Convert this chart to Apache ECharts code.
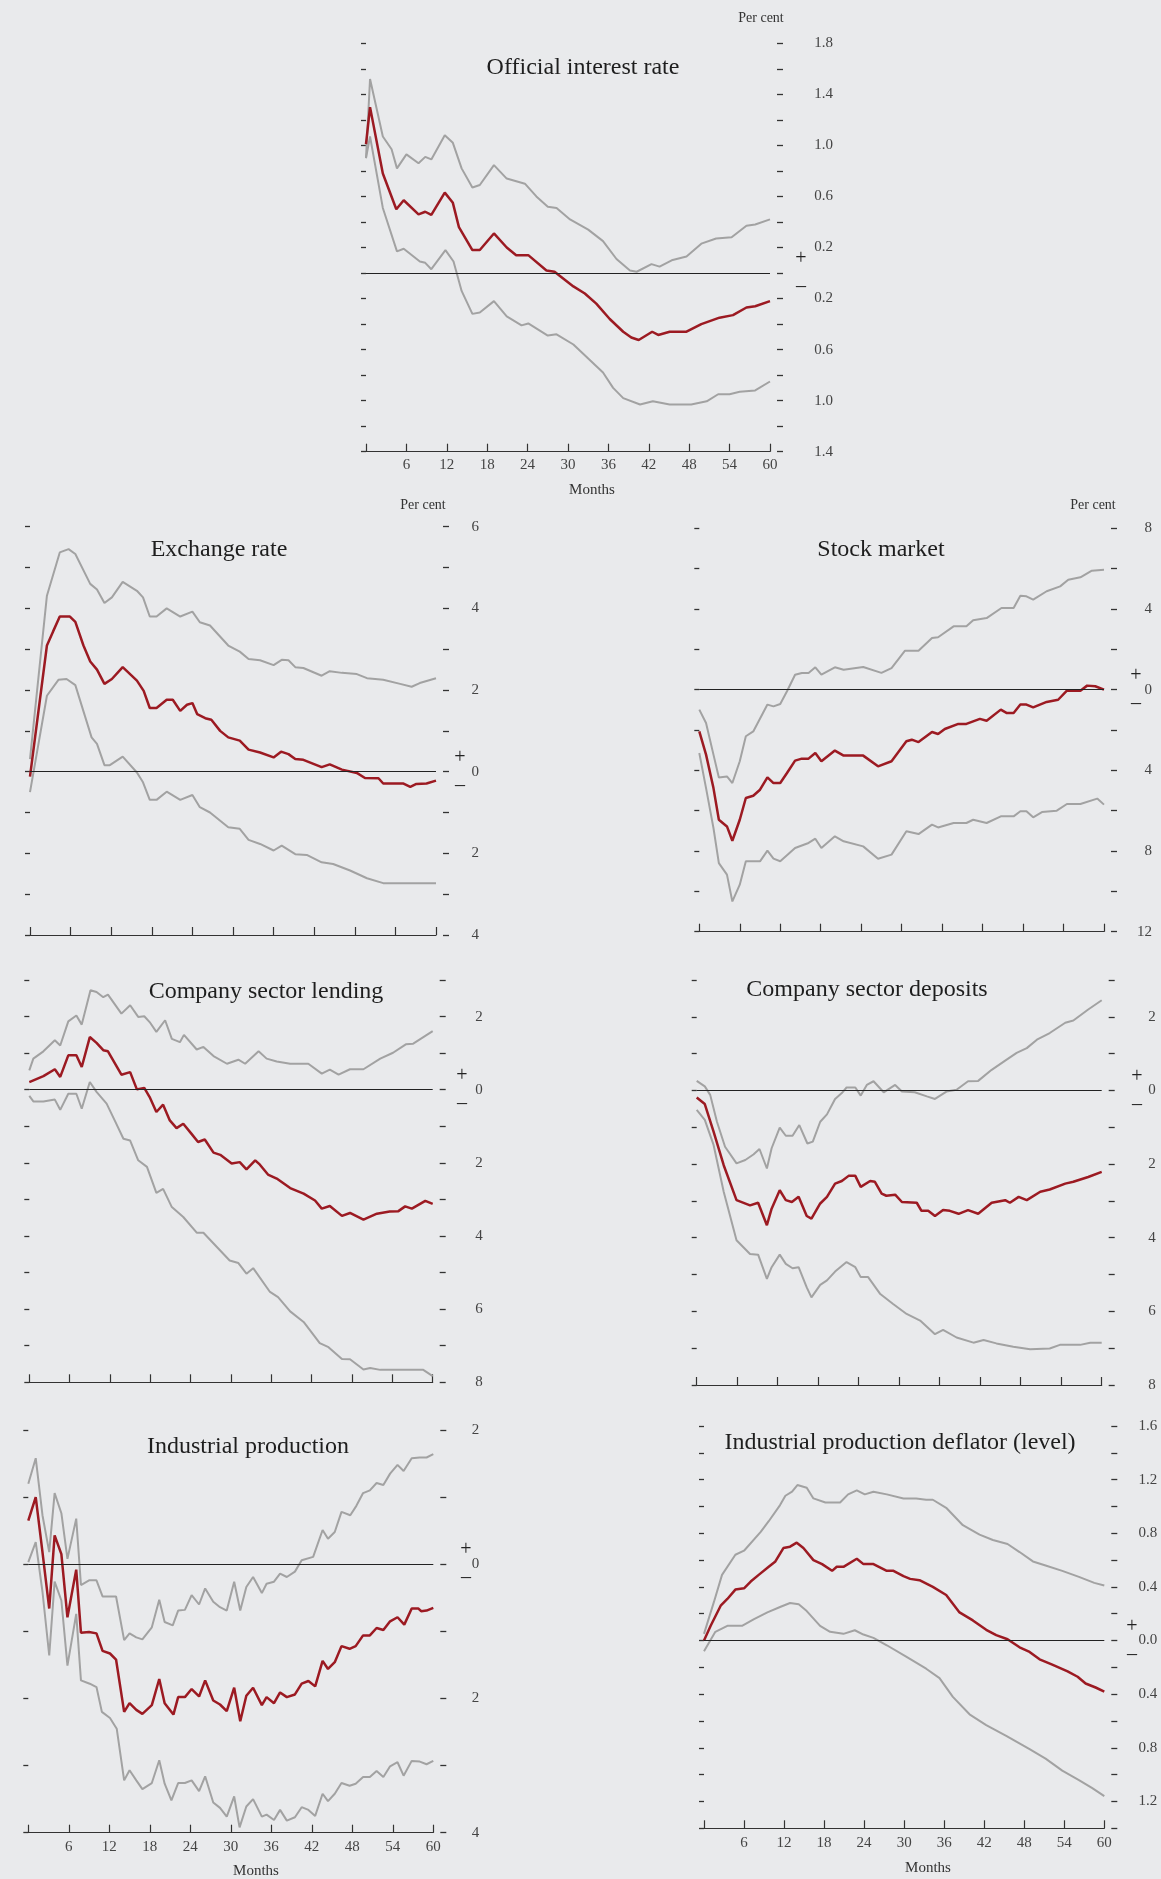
<!DOCTYPE html>
<html><head><meta charset="utf-8">
<script src="https://cdn.jsdelivr.net/npm/echarts/dist/echarts.min.js"></script>
<style>html,body{margin:0;padding:0;background:#e9eaec}#c{width:1161px;height:1879px}</style>
</head><body><div id="c"></div>
<script>
// ---- Data: [month, per cent] ----
const rateCentral = [[0,1.01],[0.6,1.30],[2.5,0.78],[4.5,0.50],[5.6,0.57],[7.8,0.46],[8.8,0.48],[9.7,0.455],[11.7,0.63],[12.9,0.55],[13.8,0.36],[15.8,0.18],[16.9,0.18],[19,0.31],[20.9,0.20],[22.3,0.14],[24.1,0.14],[26.8,0.02],[28,0.01],[30.8,-0.105],[32.5,-0.16],[34.2,-0.24],[36.2,-0.36],[38.2,-0.46],[39.4,-0.505],[40.5,-0.525],[42.5,-0.46],[43.4,-0.485],[45.1,-0.46],[47.6,-0.46],[49.8,-0.40],[52.5,-0.35],[54.5,-0.33],[56.5,-0.27],[57.8,-0.26],[60,-0.22]];
const rateUpper = [[0,0.90],[0.6,1.52],[2.5,1.07],[3.8,0.97],[4.6,0.82],[6,0.93],[7.8,0.86],[8.8,0.91],[9.7,0.89],[11.7,1.08],[12.9,1.02],[14.2,0.82],[15.8,0.67],[16.9,0.69],[19,0.845],[20.9,0.74],[23.6,0.70],[25.3,0.60],[27,0.52],[28.3,0.51],[30.3,0.42],[33,0.34],[35.2,0.25],[37.2,0.11],[39.2,0.02],[40.2,0.01],[42.4,0.07],[43.6,0.05],[45.4,0.10],[47.6,0.13],[49.8,0.23],[52,0.27],[54.3,0.28],[56.5,0.37],[57.8,0.38],[60,0.42]];
const rateLower = [[0,0.90],[0.6,1.07],[2.5,0.51],[4.6,0.17],[5.6,0.19],[8,0.09],[8.8,0.08],[9.7,0.03],[11.8,0.18],[13,0.09],[14.2,-0.14],[15.8,-0.32],[16.9,-0.31],[19,-0.22],[20.9,-0.34],[23.1,-0.41],[24.1,-0.395],[27,-0.49],[28.3,-0.48],[30.8,-0.56],[35.2,-0.78],[36.7,-0.90],[38.2,-0.98],[40.7,-1.03],[42.6,-1.005],[45.1,-1.03],[48.3,-1.03],[50.6,-1.005],[52.3,-0.95],[54,-0.95],[55.5,-0.93],[57.8,-0.92],[60,-0.85]];

const exCentral = [[0,-0.12],[2.5,3.09],[3.4,3.43],[4.4,3.80],[5.9,3.80],[6.7,3.67],[7.9,3.09],[8.9,2.70],[9.9,2.50],[11,2.15],[12.1,2.27],[13.7,2.56],[15.8,2.23],[16.8,1.98],[17.7,1.56],[18.7,1.56],[20.2,1.76],[21.1,1.76],[22.2,1.49],[23.2,1.64],[24,1.68],[24.7,1.41],[25.9,1.31],[26.8,1.27],[28.1,1.00],[29.3,0.84],[31,0.76],[32.3,0.54],[34,0.47],[36,0.35],[37.1,0.49],[38.2,0.43],[39.2,0.31],[40.4,0.29],[43.1,0.11],[44.3,0.18],[46.1,0.05],[48.3,-0.03],[49.5,-0.155],[51.5,-0.16],[52.2,-0.29],[55.2,-0.29],[56.2,-0.37],[57.1,-0.30],[58.6,-0.29],[60,-0.22]];
const exUpper = [[0,0.31],[2.5,4.31],[4.4,5.37],[5.7,5.45],[6.7,5.33],[8.9,4.60],[9.9,4.46],[11,4.13],[12.1,4.27],[13.7,4.65],[15.8,4.43],[16.7,4.27],[17.7,3.80],[18.7,3.80],[20.2,4.0],[22.2,3.80],[24,3.92],[25.1,3.66],[26.6,3.58],[29.3,3.09],[31,2.94],[32.3,2.76],[34,2.73],[36,2.61],[37.2,2.74],[38.2,2.73],[39.2,2.56],[40.4,2.54],[43.1,2.35],[44.3,2.46],[46.1,2.42],[48.3,2.39],[49.8,2.29],[52.2,2.25],[54.7,2.15],[56.4,2.08],[57.6,2.17],[60,2.29]];
const exLower = [[0,-0.5],[2.5,1.86],[4.2,2.25],[5.4,2.27],[6.7,2.12],[9.1,0.84],[9.9,0.68],[11,0.16],[11.8,0.16],[13.7,0.37],[15.8,-0.02],[16.7,-0.26],[17.7,-0.69],[18.7,-0.69],[20.2,-0.49],[22.2,-0.69],[24,-0.57],[25.1,-0.87],[26.6,-1.0],[29.3,-1.36],[31,-1.40],[32.3,-1.67],[34,-1.77],[36,-1.93],[37.2,-1.81],[39.2,-2.02],[40.9,-2.04],[43.1,-2.22],[44.8,-2.26],[47.3,-2.42],[49.8,-2.61],[52.2,-2.73],[54.7,-2.73],[57.1,-2.73],[60,-2.73]];

const stCentral = [[0,-2.07],[1,-3.22],[2.1,-4.88],[2.9,-6.45],[4.1,-6.78],[4.9,-7.49],[6,-6.45],[6.9,-5.37],[8,-5.26],[9,-4.96],[10.1,-4.35],[11,-4.63],[12,-4.63],[13,-4.13],[14.2,-3.52],[15.2,-3.42],[16.2,-3.42],[17.2,-3.14],[18.1,-3.55],[20.1,-3.02],[21.4,-3.27],[24.3,-3.27],[26.5,-3.80],[28.5,-3.55],[30.7,-2.56],[31.5,-2.48],[32.5,-2.60],[34.5,-2.10],[35.4,-2.20],[36.4,-1.95],[38.4,-1.70],[39.6,-1.70],[41.6,-1.45],[42.6,-1.54],[44.7,-0.99],[45.6,-1.16],[46.6,-1.16],[47.6,-0.74],[48.5,-0.74],[49.5,-0.88],[51.5,-0.61],[53.2,-0.50],[54.5,-0.05],[56.5,-0.05],[57.5,0.20],[58.7,0.17],[60,0]];
const stUpper = [[0,-0.99],[1,-1.65],[2.1,-3.22],[2.9,-4.35],[4.1,-4.30],[4.9,-4.63],[6,-3.55],[6.9,-2.31],[8,-2.07],[10.1,-0.74],[11,-0.83],[12,-0.71],[13,-0.08],[14.2,0.74],[15.2,0.83],[16.2,0.83],[17.2,1.11],[18.1,0.74],[20.1,1.11],[21.4,0.99],[24.3,1.12],[27,0.83],[28.5,1.07],[30.5,1.93],[32.5,1.93],[34.5,2.56],[35.4,2.60],[37.7,3.14],[39.6,3.14],[40.6,3.44],[42.6,3.55],[44.8,4.05],[46.6,4.05],[47.6,4.66],[48.5,4.63],[49.5,4.46],[51.5,4.88],[53.5,5.12],[54.7,5.45],[56.5,5.57],[58.2,5.90],[60,5.95]];
const stLower = [[0,-3.14],[1,-4.88],[2.1,-6.86],[2.9,-8.60],[4.1,-9.17],[4.9,-10.50],[6,-9.67],[6.9,-8.51],[9,-8.51],[10.1,-7.98],[11,-8.38],[12,-8.51],[14.2,-7.85],[16.2,-7.60],[17.2,-7.39],[18.1,-7.85],[20.1,-7.27],[21.4,-7.52],[24.3,-7.77],[26.5,-8.38],[28.5,-8.18],[30.7,-7.02],[32.5,-7.16],[34.5,-6.69],[35.4,-6.83],[37.7,-6.61],[39.6,-6.61],[40.6,-6.45],[42.6,-6.61],[44.7,-6.28],[46.6,-6.28],[47.6,-6.03],[48.5,-6.03],[49.5,-6.33],[50.8,-6.07],[53,-6.0],[54.5,-5.67],[56.5,-5.67],[59,-5.40],[60,-5.70]];

const lnCentral = [[0,0.21],[2.1,0.37],[3.8,0.56],[4.6,0.35],[5.8,0.94],[7,0.94],[7.8,0.62],[9,1.44],[10,1.28],[11,1.08],[11.7,1.05],[13.7,0.41],[15,0.48],[16,0.01],[17.1,0.05],[17.9,-0.20],[18.9,-0.61],[19.9,-0.41],[20.9,-0.84],[21.9,-1.05],[22.9,-0.93],[24.1,-1.20],[25.1,-1.43],[26.1,-1.36],[27.4,-1.72],[28.4,-1.78],[30.1,-2.02],[31.3,-1.98],[32.3,-2.18],[33.6,-1.93],[34.3,-2.05],[35.5,-2.32],[36.8,-2.43],[38.8,-2.69],[40.8,-2.84],[42.5,-3.03],[43.5,-3.25],[44.7,-3.18],[46.5,-3.45],[47.7,-3.37],[49.7,-3.55],[51.7,-3.39],[53.6,-3.33],[54.9,-3.32],[55.9,-3.19],[56.9,-3.25],[58.9,-3.04],[60,-3.12]];
const lnUpper = [[0,0.53],[0.6,0.85],[2.1,1.05],[3.8,1.35],[4.6,1.21],[5.8,1.87],[7,2.03],[7.8,1.78],[9.1,2.72],[10,2.67],[11,2.53],[11.7,2.60],[13.7,2.08],[15,2.31],[16.2,1.99],[17.1,2.01],[17.9,1.85],[18.9,1.58],[20.2,1.90],[21.2,1.39],[22.4,1.30],[23,1.50],[24.9,1.10],[25.9,1.17],[27.4,0.92],[29.4,0.71],[31.1,0.82],[32.1,0.71],[34.1,1.05],[35.3,0.85],[36.8,0.77],[38.8,0.71],[41.5,0.71],[43.5,0.44],[44.7,0.55],[46,0.41],[47.7,0.56],[49.7,0.56],[52.2,0.85],[54.1,1.01],[56,1.24],[57.1,1.26],[60,1.60]];
const lnLower = [[0,-0.17],[0.6,-0.32],[2.1,-0.32],[3.8,-0.27],[4.6,-0.55],[5.8,-0.11],[7,-0.11],[7.8,-0.52],[9,0.21],[10,-0.06],[11.5,-0.38],[12.7,-0.84],[14,-1.34],[15,-1.39],[16.2,-1.93],[17.5,-2.11],[18.9,-2.82],[19.9,-2.71],[21.2,-3.21],[22.9,-3.48],[24.9,-3.91],[25.9,-3.91],[27.9,-4.30],[29.8,-4.67],[31.1,-4.74],[32.3,-5.03],[33.3,-4.88],[35.8,-5.53],[37,-5.67],[38.8,-6.06],[40.8,-6.35],[43.2,-6.93],[44.5,-7.04],[46.5,-7.36],[47.7,-7.37],[49.7,-7.65],[50.7,-7.61],[52.2,-7.66],[58.6,-7.66],[60,-7.83]];

const dpCentral = [[0,-0.19],[1.2,-0.37],[2.5,-1.12],[4,-2.03],[5.9,-2.98],[7.9,-3.12],[9.1,-3.05],[10.4,-3.66],[11.1,-3.21],[12.3,-2.71],[13.2,-2.98],[14.1,-3.03],[15.1,-2.89],[16.3,-3.41],[17,-3.48],[18.3,-3.07],[19.3,-2.89],[20.5,-2.53],[21.5,-2.46],[22.5,-2.32],[23.5,-2.32],[24.3,-2.62],[25.7,-2.46],[26.4,-2.48],[27.4,-2.80],[28.1,-2.86],[29.4,-2.83],[30.4,-3.03],[32.6,-3.05],[33.3,-3.27],[34.3,-3.27],[35.3,-3.41],[36.5,-3.25],[37.5,-3.27],[38.8,-3.35],[40.2,-3.25],[41.7,-3.35],[43.7,-3.05],[45.7,-2.98],[46.4,-3.05],[47.7,-2.89],[48.9,-2.98],[50.9,-2.75],[52.3,-2.69],[54.6,-2.53],[55.8,-2.48],[58,-2.35],[60,-2.21]];
const dpUpper = [[0,0.26],[1.2,0.11],[2,-0.12],[3,-0.85],[4.2,-1.53],[5.9,-1.98],[7.2,-1.89],[8.4,-1.74],[9.3,-1.59],[10.4,-2.12],[11.1,-1.57],[12.3,-1.01],[13.2,-1.23],[14.2,-1.23],[15.2,-0.94],[16.4,-1.44],[17.2,-1.39],[18.3,-0.85],[19.3,-0.65],[20.5,-0.23],[21.5,-0.07],[22.2,0.08],[23.5,0.08],[24.3,-0.14],[25.2,0.15],[26.2,0.25],[27.7,-0.05],[29.4,0.15],[30.4,-0.03],[32.3,-0.05],[34.1,-0.16],[35.3,-0.23],[37,-0.03],[38.5,0.02],[40.2,0.25],[41.7,0.26],[43.7,0.56],[45.7,0.81],[47.4,1.02],[48.9,1.15],[50.4,1.38],[52.3,1.56],[54.6,1.84],[55.8,1.90],[58,2.2],[60,2.45]];
const dpLower = [[0,-0.53],[1.2,-0.80],[2.5,-1.48],[4,-2.75],[5.9,-4.07],[7.9,-4.44],[9.1,-4.46],[10.4,-5.12],[11.1,-4.80],[12.3,-4.46],[13.2,-4.71],[14.2,-4.83],[15.1,-4.80],[16.3,-5.35],[17,-5.62],[18.3,-5.28],[19.3,-5.16],[20.5,-4.92],[22.2,-4.66],[23.5,-4.80],[24.3,-5.07],[25.4,-5.07],[27.2,-5.53],[29.1,-5.80],[31.1,-6.07],[33.1,-6.25],[35.3,-6.62],[36.5,-6.50],[38.5,-6.71],[41,-6.85],[42.5,-6.78],[44.4,-6.87],[46.9,-6.96],[49.4,-7.03],[52.3,-7.01],[53.8,-6.91],[56.8,-6.91],[58.3,-6.85],[60,-6.85]];

const ipCentral = [[0,0.65],[1.1,1.0],[2.1,0.18],[3.1,-0.66],[3.9,0.43],[4.9,0.15],[5.8,-0.79],[7.1,-0.08],[7.8,-1.02],[9,-1.01],[10.1,-1.03],[11,-1.29],[12.1,-1.33],[13,-1.42],[14.2,-2.20],[15,-2.07],[16,-2.17],[16.9,-2.23],[18.3,-2.10],[19.4,-1.71],[20.2,-2.07],[21.5,-2.24],[22.2,-1.98],[23.2,-1.98],[24.2,-1.86],[25.3,-1.97],[26.2,-1.73],[27.4,-2.03],[28.4,-2.09],[29.4,-2.19],[30.5,-1.84],[31.4,-2.34],[32.3,-1.96],[33.3,-1.84],[34.6,-2.10],[35.3,-1.98],[36.4,-2.07],[37.3,-1.91],[38.3,-1.98],[39.5,-1.94],[40.5,-1.78],[41.5,-1.74],[42.5,-1.82],[43.6,-1.44],[44.4,-1.56],[45.4,-1.46],[46.4,-1.22],[47.6,-1.26],[48.5,-1.22],[49.6,-1.06],[50.6,-1.06],[51.6,-0.95],[52.6,-0.98],[53.6,-0.85],[54.7,-0.79],[55.7,-0.90],[56.8,-0.66],[57.8,-0.66],[58.2,-0.70],[59,-0.69],[60,-0.65]];
const ipUpper = [[0,1.20],[1.1,1.58],[2.1,0.73],[3.1,0.18],[3.9,1.06],[4.9,0.76],[5.8,0.08],[7.1,0.68],[7.8,-0.31],[9,-0.24],[10.1,-0.24],[11,-0.48],[13,-0.48],[14.2,-1.13],[15,-1.03],[16,-1.09],[16.9,-1.12],[18.3,-0.94],[19.4,-0.53],[20.2,-0.86],[21.4,-0.91],[22.2,-0.69],[23.2,-0.68],[24.2,-0.46],[25.3,-0.60],[26.2,-0.36],[27.4,-0.56],[28.4,-0.64],[29.4,-0.69],[30.5,-0.26],[31.4,-0.69],[32.3,-0.34],[33.3,-0.19],[34.6,-0.43],[35.3,-0.29],[36.4,-0.26],[37.3,-0.14],[38.3,-0.19],[39.5,-0.11],[40.5,0.06],[42.2,0.11],[43.6,0.51],[44.4,0.38],[45.4,0.48],[46.4,0.78],[47.7,0.73],[48.6,0.87],[49.6,1.06],[50.6,1.10],[51.6,1.21],[52.6,1.18],[53.6,1.35],[54.7,1.48],[55.6,1.39],[56.8,1.58],[58,1.59],[59,1.59],[60,1.64]];
const ipLower = [[0,0.03],[1.1,0.33],[2.1,-0.41],[3.1,-1.36],[3.9,-0.26],[4.9,-0.54],[5.8,-1.51],[7.1,-0.74],[7.8,-1.73],[9.1,-1.78],[10.1,-1.83],[10.9,-2.20],[12.1,-2.29],[13.1,-2.45],[14.2,-3.22],[15,-3.07],[16,-3.22],[16.9,-3.35],[18.3,-3.26],[19.4,-2.92],[20.2,-3.27],[21.2,-3.52],[22.2,-3.26],[23.2,-3.26],[24.2,-3.22],[25.3,-3.38],[26.2,-3.16],[27.4,-3.55],[28.4,-3.63],[29.4,-3.76],[30.5,-3.46],[31.3,-3.92],[32.3,-3.61],[33.3,-3.50],[34.6,-3.76],[35.3,-3.73],[36.4,-3.81],[37.3,-3.66],[38.3,-3.82],[39.5,-3.77],[40.5,-3.62],[41.5,-3.66],[42.5,-3.75],[43.6,-3.42],[44.4,-3.53],[45.4,-3.42],[46.4,-3.26],[47.6,-3.30],[48.5,-3.27],[49.6,-3.17],[50.6,-3.17],[51.6,-3.08],[52.6,-3.17],[53.6,-3.01],[54.7,-2.95],[55.6,-3.15],[56.8,-2.93],[58,-2.94],[59,-2.98],[60,-2.93]];

const dfCentral = [[0,0],[1,0.11],[2.5,0.26],[3.5,0.31],[4.7,0.38],[6,0.39],[7,0.44],[8.2,0.49],[9.7,0.55],[10.7,0.59],[11.9,0.69],[12.9,0.70],[13.9,0.73],[14.9,0.69],[16.4,0.60],[17.7,0.57],[19.2,0.52],[19.9,0.55],[20.9,0.55],[22.9,0.61],[23.9,0.57],[25.4,0.57],[27.4,0.52],[28.4,0.52],[29.9,0.48],[30.9,0.46],[32.3,0.45],[34.3,0.40],[36.3,0.34],[38.3,0.21],[40.3,0.15],[42.3,0.08],[43.8,0.04],[45.5,0.01],[47.3,-0.05],[48.8,-0.085],[50.3,-0.14],[52.2,-0.18],[54.5,-0.23],[56,-0.27],[57.2,-0.32],[58.7,-0.35],[60,-0.38]];
const dfUpper = [[0,0.05],[1.5,0.29],[2.7,0.49],[4.7,0.64],[6,0.67],[8.5,0.81],[9.7,0.89],[11.4,1.01],[12.2,1.08],[13.2,1.11],[14,1.16],[15.4,1.14],[16.4,1.06],[18.2,1.03],[20.4,1.03],[21.6,1.09],[22.9,1.12],[24.1,1.09],[25.4,1.11],[27.4,1.09],[29.9,1.06],[31.8,1.06],[33.3,1.05],[34.3,1.05],[36.3,0.99],[38.8,0.86],[41.3,0.79],[43.3,0.75],[45.5,0.72],[47.3,0.66],[49.3,0.59],[51.2,0.56],[53.7,0.52],[56.2,0.475],[58.5,0.43],[60,0.41]];
const dfLower = [[0,-0.08],[1.7,0.065],[3.5,0.11],[5.7,0.11],[7.5,0.16],[9.5,0.21],[11.4,0.25],[12.9,0.28],[14.2,0.27],[15.4,0.22],[17.4,0.11],[18.9,0.065],[20.9,0.05],[22.6,0.077],[23.9,0.045],[25.4,0.02],[27.4,-0.035],[30.3,-0.12],[33.3,-0.21],[35.3,-0.28],[37.3,-0.42],[39.8,-0.55],[42.3,-0.63],[45.3,-0.71],[48.8,-0.81],[51.2,-0.88],[53.7,-0.97],[56.2,-1.04],[58.2,-1.10],[60,-1.16]];

const titles = ['Official interest rate','Exchange rate','Stock market','Company sector lending','Company sector deposits','Industrial production','Industrial production deflator (level)'];

// ---- Layout ----
const FONT = "'Liberation Serif','Times New Roman',serif";
const RED = '#9c1a22', GREY = '#a2a2a2', INK = '#333';
const panels = [
  {grid:{left:366,top:43.3,width:404,height:408.4}, min:-1.4,max:1.8,step:0.2, lblBase:0.2,lblStep:0.4,dec:1, lblMargin:56, signX:801,
   title:[583,68], perCent:[761,18], months:[592,490], xLabels:true, xMargin:6, data:[rateUpper,rateLower,rateCentral]},
  {grid:{left:30,top:526.7,width:406,height:408.3}, min:-4,max:6,step:1, lblBase:0,lblStep:2,dec:0, lblMargin:36, signX:460,
   title:[219,550], perCent:[423,505], months:null, xLabels:false, data:[exUpper,exLower,exCentral]},
  {grid:{left:699.3,top:528.3,width:404.7,height:403.4}, min:-12,max:8,step:2, lblBase:0,lblStep:4,dec:0, lblMargin:41, signX:1136,
   title:[881,550], perCent:[1093,505], months:null, xLabels:false, data:[stUpper,stLower,stCentral]},
  {grid:{left:29.3,top:980,width:403.4,height:402.3}, min:-8,max:3,step:1, lblBase:0,lblStep:2,dec:0, lblMargin:43, signX:462,
   title:[266,992], perCent:null, months:null, xLabels:false, data:[lnUpper,lnLower,lnCentral]},
  {grid:{left:696.7,top:980,width:405,height:405}, min:-8,max:3,step:1, lblBase:0,lblStep:2,dec:0, lblMargin:47, signX:1137,
   title:[867,990], perCent:null, months:null, xLabels:false, data:[dpUpper,dpLower,dpCentral]},
  {grid:{left:28.3,top:1430,width:405,height:402.7}, min:-4,max:2,step:1, lblBase:0,lblStep:2,dec:0, lblMargin:39, signX:466,
   title:[248,1447], perCent:null, months:[256,1871], xLabels:true, xMargin:7, data:[ipUpper,ipLower,ipCentral]},
  {grid:{left:704,top:1426,width:400.3,height:402.3}, min:-1.4,max:1.6,step:0.2, lblBase:0,lblStep:0.4,dec:1, lblMargin:46, signX:1132,
   title:[900,1443], perCent:null, months:[928,1868], xLabels:true, xMargin:7, data:[dfUpper,dfLower,dfCentral]}
];

const grids=[], xAxes=[], yAxes=[], series=[];
panels.forEach((p,i)=>{
  grids.push(Object.assign({containLabel:false, outerBoundsMode:'none'}, p.grid));
  xAxes.push({gridIndex:i,type:'value',min:0,max:60,interval:6,position:'bottom',
    axisLine:{show:true,onZero:false,lineStyle:{color:INK,width:1.2}},
    axisTick:{show:true,inside:true,length:8,lineStyle:{color:INK,width:1.2}},
    axisLabel:{show:p.xLabels,showMinLabel:true,showMaxLabel:true,formatter:v=>v===0?'':String(v),color:'#444',fontFamily:FONT,fontSize:15,margin:p.xMargin||6},
    splitLine:{show:false}});
  const fmt = v=>{ const k=(v-p.lblBase)/p.lblStep; if(Math.abs(k-Math.round(k))>1e-6) return ''; return Math.abs(v).toFixed(p.dec); };
  yAxes.push({gridIndex:i,type:'value',position:'left',offset:9,min:p.min,max:p.max,interval:p.step,
    axisLine:{show:false},axisTick:{show:true,length:5,lineStyle:{color:INK,width:1.3}},axisLabel:{show:false},splitLine:{show:false}});
  yAxes.push({gridIndex:i,type:'value',position:'right',offset:7,min:p.min,max:p.max,interval:p.step,
    axisLine:{show:false},axisTick:{show:true,length:6,lineStyle:{color:INK,width:1.3}},
    axisLabel:{show:true,showMinLabel:true,showMaxLabel:true,formatter:fmt,align:'right',margin:p.lblMargin,color:'#444',fontFamily:FONT,fontSize:15},
    splitLine:{show:false}});
  p.data.forEach((d,j)=>{
    const central = j===2;
    const s = {type:'line',xAxisIndex:i,yAxisIndex:2*i+1,data:d,symbol:'none',showSymbol:false,silent:true,animation:false,
      lineStyle:{color:central?RED:GREY,width:central?2.5:2},z:central?4:3};
    if(j===0){ s.markLine={silent:true,symbol:'none',label:{show:false},animation:false,
      lineStyle:{color:'#222',width:1.2,type:'solid'},data:[{yAxis:0}]}; }
    series.push(s);
  });
});

const chart = echarts.init(document.getElementById('c'), null, {renderer:'canvas'});
chart.setOption({backgroundColor:'#e9eaec',animation:false,grid:grids,xAxis:xAxes,yAxis:yAxes,series:series});

const g=[];
panels.forEach((p,i)=>{
  g.push({type:'text',x:p.title[0],y:p.title[1],style:{text:titles[i],font:'24px '+FONT,fill:'#1e1e1e',align:'center',verticalAlign:'middle'}});
  if(p.perCent) g.push({type:'text',x:p.perCent[0],y:p.perCent[1],style:{text:'Per cent',font:'14px '+FONT,fill:'#333',align:'center',verticalAlign:'middle'}});
  if(p.months) g.push({type:'text',x:p.months[0],y:p.months[1],style:{text:'Months',font:'15px '+FONT,fill:'#333',align:'center',verticalAlign:'middle'}});
  const zy = chart.convertToPixel({yAxisIndex:2*i+1},0);
  g.push({type:'text',x:p.signX,y:zy-14,style:{text:'+',font:'20px '+FONT,fill:'#222',align:'center',verticalAlign:'middle'}});
  g.push({type:'text',x:p.signX,y:zy+14,style:{text:'–',font:'20px '+FONT,fill:'#222',align:'center',verticalAlign:'middle'}});
});
chart.setOption({graphic:g});
</script></body></html>
